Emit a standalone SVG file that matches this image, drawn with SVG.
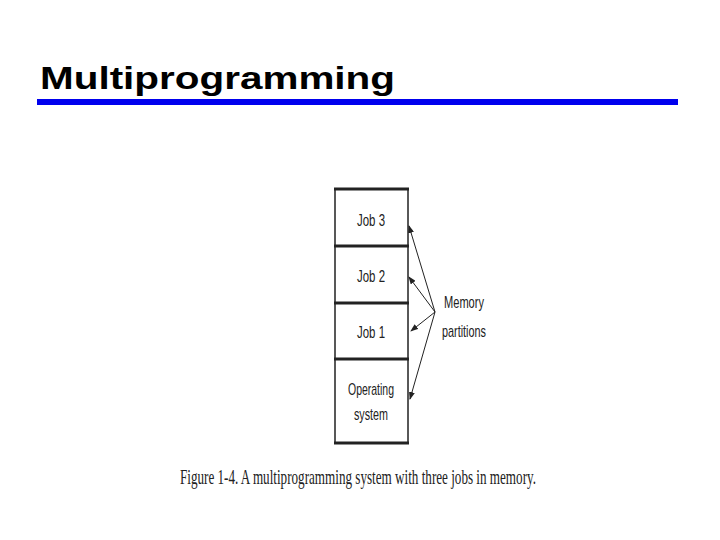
<svg xmlns="http://www.w3.org/2000/svg" width="720" height="540" viewBox="0 0 720 540">
<style>
.t{font-family:"Liberation Sans",Arial,sans-serif;font-size:17px;fill:#222;text-anchor:middle}
.box{fill:#fff;stroke:#222;stroke-width:1.5}
.sep{stroke:#222;stroke-width:3}
</style>
<defs><marker id="a" markerWidth="8" markerHeight="6" refX="7" refY="3" orient="auto" markerUnits="userSpaceOnUse"><path d="M0,0L8,3L0,6z" fill="#222"/></marker></defs>
<rect width="720" height="540" fill="#fff"/>
<text x="40" y="89" font-family="Liberation Sans,Arial,sans-serif" font-weight="bold" font-size="31" fill="#000" textLength="355" lengthAdjust="spacingAndGlyphs">Multiprogramming</text>
<rect x="37" y="99" width="641" height="6" fill="#0000ee"/>
<g id="mem">
<rect class="box" x="335" y="189" width="73" height="254"/>
<line class="sep" x1="334" y1="189" x2="409" y2="189"/>
<line class="sep" x1="334" y1="246" x2="409" y2="246"/>
<line class="sep" x1="334" y1="303" x2="409" y2="303"/>
<line class="sep" x1="334" y1="359" x2="409" y2="359"/>
<line class="sep" x1="334" y1="443" x2="409" y2="443"/>
</g>
<g id="job3"><text class="t" x="371" y="226" textLength="28" lengthAdjust="spacingAndGlyphs">Job 3</text></g>
<g id="job2"><text class="t" x="371" y="282" textLength="28" lengthAdjust="spacingAndGlyphs">Job 2</text></g>
<g id="job1"><text class="t" x="371" y="338" textLength="28" lengthAdjust="spacingAndGlyphs">Job 1</text></g>
<g id="os"><text class="t" x="371" y="395" textLength="46" lengthAdjust="spacingAndGlyphs">Operating</text><text class="t" x="371" y="420" textLength="34" lengthAdjust="spacingAndGlyphs">system</text></g>
<g id="label"><text class="t" x="464" y="308" textLength="40" lengthAdjust="spacingAndGlyphs">Memory</text><text class="t" x="464" y="337" textLength="44" lengthAdjust="spacingAndGlyphs">partitions</text></g>
<g id="connectors" stroke="#222" stroke-width="1" marker-end="url(#a)">
<line x1="435" y1="312" x2="409" y2="226"/>
<line x1="435" y1="312" x2="409" y2="277"/>
<line x1="435" y1="312" x2="411" y2="331"/>
<line x1="435" y1="312" x2="410" y2="399"/>
</g>
<text x="180" y="484" font-family="Liberation Serif,Times New Roman,serif" font-size="21" fill="#222" textLength="356" lengthAdjust="spacingAndGlyphs">Figure 1-4. A multiprogramming system with three jobs in memory.</text>
</svg>
